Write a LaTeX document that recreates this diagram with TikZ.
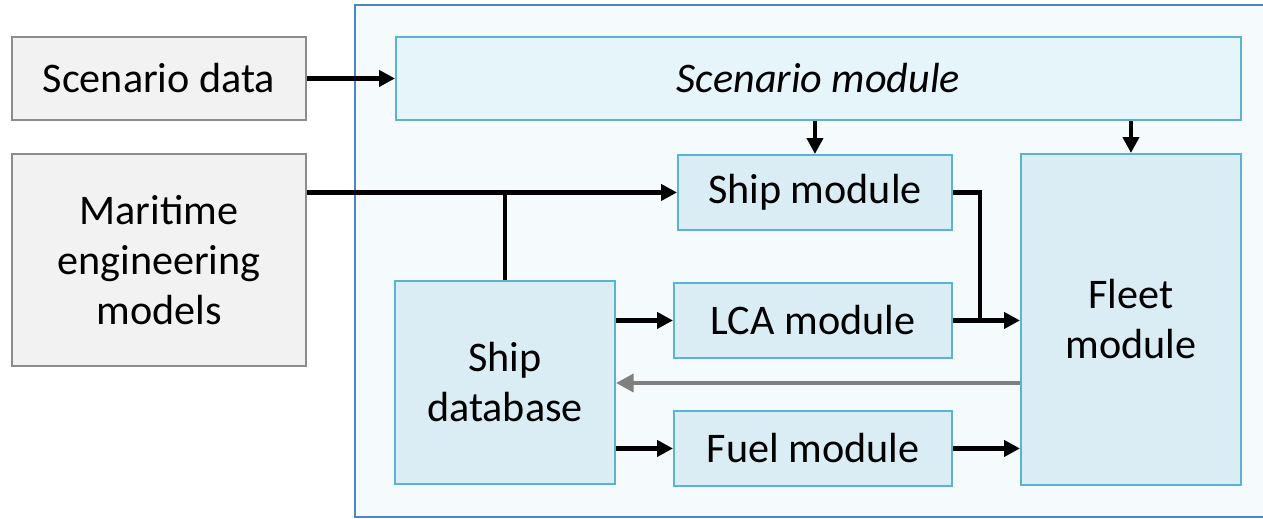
\documentclass[tikz,border=0pt]{standalone}
\usepackage{fontspec}
\setmainfont{Carlito}
\usetikzlibrary{arrows.meta}
\definecolor{panelfill}{HTML}{F5FAFC}
\definecolor{panelline}{HTML}{4A86C8}
\definecolor{modfill}{HTML}{DAEDF4}
\definecolor{topfill}{HTML}{E6F5FA}
\definecolor{modline}{HTML}{5AB4D0}
\definecolor{datafill}{HTML}{F2F2F2}
\definecolor{dataline}{HTML}{8C8C8C}
\definecolor{backline}{HTML}{808080}
\begin{document}
\begin{tikzpicture}[x=0.02cm, y=-0.02cm, font=\fontsize{24}{28.5}\selectfont, line join=miter,
	sz/.style 2 args={minimum width=#1*0.02cm, minimum height=#2*0.02cm},
	blk/.style={draw, line width=1.1pt, inner sep=0pt, anchor=north west, align=center},
	datablk/.style={blk, fill=datafill, draw=dataline},
	modblk/.style={blk, fill=modfill, draw=modline},
	link/.style={line width=2.8pt},
	arr/.style={link, -{Triangle[length=9pt,width=9pt]}},
	backarr/.style={link, draw=backline, -{Triangle[length=10pt,width=10pt]}, color=backline}]
	\useasboundingbox (0,0) rectangle (1263,519);
	% panel, open on the right
	\fill[panelfill] (355,5) rectangle (1300,517);
	\draw[line width=1.1pt, draw=panelline] (1300,5) -- (355,5) -- (355,517) -- (1300,517);
	% inputs
	\node[datablk, sz={294}{83}] (scd) at (11,36) {Scenario data};
	\node[datablk, sz={294}{212}] (mar) at (11,153) {Maritime\\engineering\\models};
	% modules
	\node[modblk, fill=topfill, sz={845}{83}] (scm) at (395,36) {\itshape Scenario module};
	\node[modblk, sz={274}{75}] (shm) at (677,154) {Ship module};
	\node[modblk, sz={278}{75}] (lca) at (673,282) {LCA module};
	\node[modblk, sz={278}{75}] (fuel) at (673,410) {Fuel module};
	\node[modblk, sz={220}{203}] (sdb) at (394,280) {Ship\\database};
	\node[modblk, sz={220}{331}] (flt) at (1020,153) {Fleet\\module};
	\coordinate (jn) at (980,319);
	\coordinate (ret) at (800,383);
	% connectors
	\draw[arr] (scd) -- (scm);
	\draw[arr] (shm.north |- scm.south) -- (shm.north);
	\draw[arr] (flt.north |- scm.south) -- (flt.north);
	\draw[arr] (mar.east |- shm) -- (shm.west);
	\draw[link] (sdb.north) -- (sdb.north |- shm);
	\draw[arr] (sdb.east |- lca) -- (lca.west);
	\draw[arr] (sdb.east |- fuel) -- (fuel.west);
	\draw[link] (shm.east) -| (jn);
	\draw[arr] (lca.east) -- (lca.east -| flt.west);
	\draw[arr] (fuel.east) -- (fuel.east -| flt.west);
	\draw[backarr] (flt.west |- ret) -- (sdb.east |- ret);
\end{tikzpicture}
\end{document}
